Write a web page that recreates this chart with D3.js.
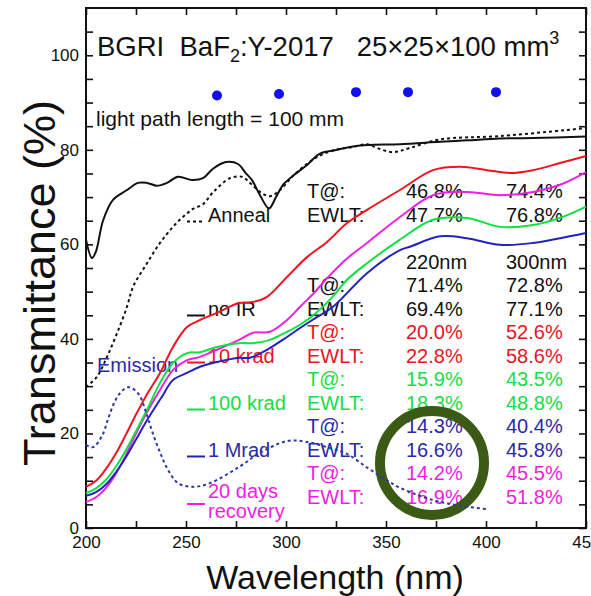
<!DOCTYPE html>
<html>
<head>
<meta charset="utf-8">
<script src="https://cdn.jsdelivr.net/npm/d3@7"></script>
<style>
  body { margin: 0; background: #fff; }
  svg { font-family: "Liberation Sans", Arial, sans-serif; }
</style>
</head>
<body>
<div id="chart"></div>
<script>
// values, [wavelength (nm), transmittance (%)]
var noIR = [[200,61],[203,57.1],[205,58.5],[208.5,65],[213.5,69.4],[220.5,71.5],[226,73],[230.5,73],[235.5,72.4],
  [240.5,73],[246,74.3],[253,73.6],[258.5,74],[263.5,76],[270,77.4],[276,77],[280,75],[283,73.6],[287,70.4],
  [291.5,67.6],[295,70],[298.5,72.6],[303.5,74.5],[310.5,76.8],[317,79.2],[325.5,80],[332,80.6],[340.5,81],
  [357,81.2],[377,81.7],[390.5,82],[407,82.4],[423.5,82.5],[450,82.8]];
var anneal = [[200,29.8],[205.5,32],[210.5,36.2],[215.5,41.2],[220.5,46.8],[223.5,51],[230.5,56],[237,60.3],
  [243.5,63.7],[248.5,65.8],[253.5,67.5],[258.5,68.5],[263.5,71],[272,74],[278,74.3],[282,73],[287,71.1],
  [292,70.2],[297,71.5],[303.5,74.5],[311,77.2],[318,79],[327,80.2],[333.5,80.6],[340.5,81.2],[345.5,80.4],
  [353.5,79.5],[362,80.4],[377,82.2],[407,82.9],[450,84.6]];
var krad10 = [[200,8.7],[205,10],[210,12.5],[215,15.8],[220,19.8],[225,24],[230.5,28.3],[237,32.8],
  [243.5,38.3],[250.5,42.5],[257,44],[265.5,45.5],[276.5,47.6],[283.5,47.8],[290.5,48.9],[300.5,53.1],
  [310.5,57.3],[320.5,60.5],[330.5,64.5],[340.5,67.3],[357,71.5],[373.5,75.7],[387,76.4],[400.5,75.7],
  [412,75.1],[423.5,75.7],[437,77.2],[450,78.7]];
var krad100 = [[200,7.4],[205,8.4],[210,10.2],[215,13],[220,16.5],[225,20.5],[230.5,25],[237,30.7],
  [243.5,34.9],[250.5,37],[257,37.2],[265.5,38.3],[276.5,39.1],[283.5,39.1],[292,39.8],[300.5,41.5],[307,43],
  [315,45.5],[323.5,49],[330.5,52.5],[340.5,56],[357,61],[373.5,65.2],[390.5,65.6],[407,63.7],[423.5,64.1],
  [437,65.6],[450,68]];
var mrad1 = [[200,6.8],[205,7.6],[210,9.2],[215,11.8],[220,15],[225,18.7],[230.5,22.8],[238,27.8],
  [243.5,31.3],[250.5,32.8],[257,34.1],[265.5,35.1],[276.5,36],[282,36],[290.5,37.7],[300.5,40.4],[307,42.3],
  [315,44.5],[323.5,46.8],[340.5,53.9],[357,58.8],[362,59.5],[377,61.7],[390.5,61.3],[407,59.9],[423.5,60.3],
  [437,61.3],[450,62.4]];
var recovery = [[200,5.5],[205,6.5],[210,8.5],[215,11.5],[220,15.5],[225,20],[230.5,24.5],[237,29.2],
  [243.5,33.4],[250.5,35.5],[257,36.2],[265.5,37.7],[276.5,39.8],[283.5,41.3],[292,41.5],[300.5,44],[307,46.8],
  [313.5,49.5],[320.5,52.8],[330.5,57],[340.5,60.3],[357,65.8],[373.5,70.4],[390.5,71.1],[407,70.4],
  [423.5,71.1],[437,72.6],[450,75.3]];
var emission = [[200,17.6],[203.5,17.1],[208,19.5],[211,23],[214,26.4],[217,28.5],[221,29.8],[226,28.5],
  [230,24.5],[233,20.5],[237,16],[241,12.3],[246,9.5],[253.5,8.7],[262,9.5],[276.5,12.9],[287,15.9],
  [300.5,18.4],[310.5,18.2],[323.5,16.7],[330,15.8],[340.5,12.8],[350,10.2],[357,8.5],[373.5,5.9],[386,4.8],[400,4]];

// blue markers near the top
var dotNm = [265.5, 296.5, 335, 361, 405];
var dotT = [91.5, 91.8, 92.2, 92.2, 92.2];

var xTickLabels = [200, 250, 300, 350, 400, 450];
var yTickLabels = [0, 20, 40, 60, 80, 100];

// table text: row slot, label, value at 220nm, value at 300nm, colour key
var tableRows = [
  [0, "T@:", "46.8%", "74.4%", "k"],
  [1, "EWLT:", "47.7%", "76.8%", "k"],
  [3, "", "220nm", "300nm", "k"],
  [4, "T@:", "71.4%", "72.8%", "k"],
  [5, "EWLT:", "69.4%", "77.1%", "k"],
  [6, "T@:", "20.0%", "52.6%", "r"],
  [7, "EWLT:", "22.8%", "58.6%", "r"],
  [8, "T@:", "15.9%", "43.5%", "g"],
  [9, "EWLT:", "18.3%", "48.8%", "g"],
  [10, "T@:", "14.3%", "40.4%", "b"],
  [11, "EWLT:", "16.6%", "45.8%", "b"],
  [12, "T@:", "14.2%", "45.5%", "m"],
  [13, "EWLT:", "16.9%", "51.8%", "m"]
];

var colors = { k: "#111", r: "#f01420", g: "#10e040", b: "#2222c0", m: "#f020e0" };
var textColors = { k: "#111", r: "#e8141e", g: "#18dc48", b: "#2a2aa8", m: "#ee1ede" };

var svgWidth = 591, svgHeight = 596;
var margin = { top: 8, right: 5, bottom: 68, left: 86 };
var width = svgWidth - margin.left - margin.right;
var height = svgHeight - margin.top - margin.bottom;

var svg = d3.select("#chart").append("svg")
  .attr("width", svgWidth)
  .attr("height", svgHeight);

var g = svg.append("g").attr("transform", `translate(${margin.left}, ${margin.top})`);

var x = d3.scaleLinear().domain([200, 450]).range([0, width]);
var y = d3.scaleLinear().domain([0, 110]).range([height, 0]);

// axes, ticks inward
var yAll = d3.range(0, 110, 5);
var xAll = d3.range(200, 451, 25);

function styleAxis(sel) {
  sel.select(".domain").remove();
  sel.selectAll("line").attr("stroke", "#111").attr("stroke-width", 1.6);
  sel.selectAll("text").attr("fill", "#111").attr("font-size", "17px");
}

g.append("g")
  .call(d3.axisLeft(y).tickValues(yAll).tickSize(-7).tickPadding(7)
    .tickFormat(d => yTickLabels.includes(d) ? d : ""))
  .call(styleAxis);
g.append("g").attr("transform", `translate(${width},0)`)
  .call(d3.axisRight(y).tickValues(yAll).tickSize(-7).tickFormat(""))
  .call(styleAxis);
g.append("g").attr("transform", `translate(0,${height})`)
  .call(d3.axisBottom(x).tickValues(xAll).tickSize(-7).tickPadding(8)
    .tickFormat(d => xTickLabels.includes(d) ? d : ""))
  .call(styleAxis);
g.append("g")
  .call(d3.axisTop(x).tickValues(xAll).tickSize(-7).tickFormat(""))
  .call(styleAxis);

g.append("rect")
  .attr("width", width).attr("height", height)
  .attr("fill", "none").attr("stroke", "#111").attr("stroke-width", 2);

// axis titles
svg.append("text")
  .attr("x", 335).attr("y", 589)
  .attr("text-anchor", "middle")
  .attr("font-size", "34px")
  .attr("fill", "#111")
  .text("Wavelength (nm)");

svg.append("text")
  .attr("transform", "translate(55, 283) rotate(-90)")
  .attr("text-anchor", "middle")
  .attr("font-size", "45px")
  .attr("fill", "#111")
  .text("Transmittance (%)");

// heading
var title = g.append("text")
  .attr("x", 11).attr("y", 48)
  .attr("font-size", "27.5px")
  .attr("fill", "#111")
  .style("white-space", "pre");
title.append("tspan").text("BGRI  BaF");
title.append("tspan").attr("font-size", "18px").attr("dy", 6).text("2");
title.append("tspan").attr("dy", -6).text(":Y-2017   25×25×100 mm");
title.append("tspan").attr("font-size", "18px").attr("dy", -12).text("3");

g.append("text")
  .attr("x", 10).attr("y", 118)
  .attr("font-size", "21px")
  .attr("fill", "#111")
  .text("light path length = 100 mm");

// table of values
var rowY = d => 190 + d * 23.5;
var table = g.append("g");
tableRows.forEach(function(r) {
  var c = textColors[r[4]];
  [r[1], r[2], r[3]].forEach(function(t, i) {
    table.append("text")
      .attr("x", [221, 320, 420][i])
      .attr("y", rowY(r[0]))
      .attr("font-size", "20px")
      .attr("fill", c)
      .text(t);
  });
});

// legend labels
var legend = [
  ["Anneal", "k", 1, true],
  ["no IR", "k", 5, false],
  ["10 krad", "r", 7, false],
  ["100 krad", "g", 9, false],
  ["1 Mrad", "b", 11, false]
];
legend.forEach(function(l) {
  var yy = rowY(l[2]);
  g.append("line")
    .attr("x1", 101).attr("x2", 119).attr("y1", yy).attr("y2", yy)
    .attr("stroke", colors[l[1]]).attr("stroke-width", 2)
    .attr("stroke-dasharray", l[3] ? "3,3" : null);
  g.append("text")
    .attr("x", 122).attr("y", yy)
    .attr("font-size", "20px")
    .attr("fill", l[1] === "k" ? "#111" : textColors[l[1]])
    .text(l[0]);
});
g.append("line")
  .attr("x1", 101).attr("x2", 119).attr("y1", 496).attr("y2", 496)
  .attr("stroke", colors.m).attr("stroke-width", 2);
g.append("text").attr("x", 122).attr("y", 490).attr("font-size", "20px")
  .attr("fill", textColors.m).text("20 days");
g.append("text").attr("x", 122).attr("y", 510).attr("font-size", "20px")
  .attr("fill", textColors.m).text("recovery");
g.append("text").attr("x", 11).attr("y", 364).attr("font-size", "20px")
  .attr("fill", textColors.b).text("Emission");

// highlight ring
g.append("circle")
  .attr("cx", 346).attr("cy", 455).attr("r", 52)
  .attr("fill", "none").attr("stroke", "#3b5a14").attr("stroke-width", 10);

// curves
var line = d3.line()
  .x(d => x(d[0]))
  .y(d => y(d[1]))
  .curve(d3.curveCatmullRom.alpha(0.5));

var series = [
  [anneal, "#111", "3,3"],
  [noIR, "#111", null],
  [krad10, colors.r, null],
  [recovery, colors.m, null],
  [krad100, colors.g, null],
  [mrad1, colors.b, null],
  [emission, "#2a3aa0", "3,3"]
];
series.forEach(function(s) {
  g.append("path")
    .datum(s[0])
    .attr("d", line)
    .attr("fill", "none")
    .attr("stroke", s[1])
    .attr("stroke-width", 2)
    .attr("stroke-dasharray", s[2]);
});

g.selectAll(".dot")
  .data(dotNm)
  .enter()
  .append("circle")
  .attr("class", "dot")
  .attr("cx", d => x(d))
  .attr("cy", (d, i) => y(dotT[i]))
  .attr("r", 5)
  .attr("fill", "#1010f0");
</script>
</body>
</html>
